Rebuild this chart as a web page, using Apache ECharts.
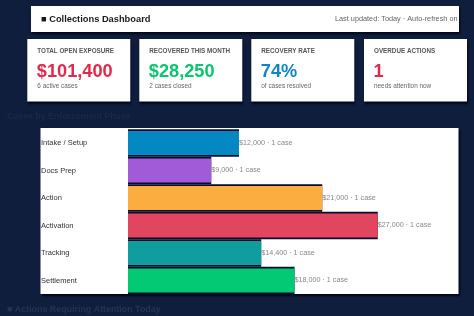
<!DOCTYPE html>
<html>
<head>
<meta charset="utf-8">
<script src="https://cdn.jsdelivr.net/npm/echarts@6/dist/echarts.min.js"></script>
<style>
html,body{margin:0;padding:0;background:#0f1e3d;}
#c{width:474px;height:316px;}
</style>
</head>
<body>
<div id="c"></div>
<script>
// ---- data ----
const categories = ['Intake / Setup', 'Docs Prep', 'Action', 'Activation', 'Tracking', 'Settlement'];
const amounts = [12000, 9000, 21000, 27000, 14400, 18000];
const caseCounts = [1, 1, 1, 1, 1, 1];
const barColors = ['#0488c4', '#a15bd9', '#fbad3f', '#e2455e', '#0f9d9d', '#03c874'];

const kpiTitles = ['TOTAL OPEN EXPOSURE', 'RECOVERED THIS MONTH', 'RECOVERY RATE', 'OVERDUE ACTIONS'];
const kpiValues = ['$101,400', '$28,250', '74%', '1'];
const kpiSubs = ['6 active cases', '2 cases closed', 'of cases resolved', 'needs attention now'];
const kpiColors = ['#e3294b', '#0bc56f', '#1186c6', '#e3294b'];

const dashTitle = '■ Collections Dashboard';
const dashUpdated = 'Last updated: Today · Auto-refresh on';
const chartTitle = 'Cases by Enforcement Phase';
const nextTitle = '■ Actions Requiring Attention Today';

// ---- chart ----
const FONT = '"Liberation Sans", Arial, "DejaVu Sans", sans-serif';
const chart = echarts.init(document.getElementById('c'), null, {renderer: 'canvas'});

const graphics = [];
// header box
graphics.push({type: 'rect', z: 0, shape: {x: 31, y: 6, width: 428, height: 26},
  style: {fill: '#ffffff', shadowColor: 'rgba(0,0,20,0.8)', shadowOffsetX: 1, shadowOffsetY: 2, shadowBlur: 2}});
graphics.push({type: 'text', z: 1, x: 41, y: 19.5,
  style: {text: dashTitle, font: 'bold 9.3px ' + FONT, fill: '#1a1a1a', verticalAlign: 'middle', align: 'left'}});
graphics.push({type: 'text', z: 1, x: 457.5, y: 18.5,
  style: {text: dashUpdated, font: '7.3px ' + FONT, fill: '#666', verticalAlign: 'middle', align: 'right'}});

// KPI cards
const cardX = [27.3, 139.3, 251.3, 364];
cardX.forEach((x, i) => {
  graphics.push({type: 'rect', z: 0, shape: {x: x, y: 39, width: 103, height: 62.5},
    style: {fill: '#ffffff', shadowColor: 'rgba(0,0,20,0.8)', shadowOffsetX: 1, shadowOffsetY: 2, shadowBlur: 2}});
  graphics.push({type: 'text', z: 1, x: x + 10, y: 51,
    style: {text: kpiTitles[i], font: 'bold 6.3px ' + FONT, fill: '#555', verticalAlign: 'middle'}});
  graphics.push({type: 'text', z: 1, x: x + 9.5, y: 71.5,
    style: {text: kpiValues[i], font: 'bold 18.2px ' + FONT, fill: kpiColors[i], verticalAlign: 'middle'}});
  graphics.push({type: 'text', z: 1, x: x + 10, y: 86,
    style: {text: kpiSubs[i], font: '6.4px ' + FONT, fill: '#666', verticalAlign: 'middle'}});
});

// section titles
graphics.push({type: 'text', z: 1, x: 7, y: 117,
  style: {text: chartTitle, font: 'bold 8.8px ' + FONT, fill: '#1d2946', verticalAlign: 'middle'}});
graphics.push({type: 'text', z: 1, x: 7, y: 310,
  style: {text: nextTitle, font: 'bold 8.9px ' + FONT, fill: '#283350', verticalAlign: 'middle'}});

// chart panel
graphics.push({type: 'rect', z: -1, shape: {x: 40.5, y: 128, width: 418, height: 166},
  style: {fill: '#ffffff', shadowColor: 'rgba(0,0,20,0.85)', shadowOffsetX: 1.5, shadowOffsetY: 2, shadowBlur: 2}});

chart.setOption({
  backgroundColor: '#0f1e3d',
  animation: false,
  graphic: graphics,
  grid: {left: 128, top: 129.2, width: 333, height: 165, containLabel: false},
  xAxis: {type: 'value', min: 0, max: 36000, show: false},
  yAxis: [
    {type: 'category', data: categories, inverse: true,
      axisLine: {show: false}, axisTick: {show: false}, splitLine: {show: false},
      axisLabel: {align: 'left', margin: 87, fontSize: 7.5, color: '#333', fontFamily: FONT, padding: [0, 0, 2, 0]}},
    {type: 'category', data: categories, inverse: true, show: false}
  ],
  series: [
    {
      type: 'bar', yAxisIndex: 1, barWidth: '100%', z: 1, silent: true,
      data: amounts,
      itemStyle: {color: '#070d2a'}
    },
    {
      type: 'bar', yAxisIndex: 0, barWidth: 24, z: 2,
      data: amounts.map((v, i) => ({value: v, itemStyle: {color: barColors[i]}})),
      label: {
        show: true, position: 'right', distance: 0,
        fontSize: 7.2, color: '#888', fontFamily: FONT,
        formatter: p => '$' + p.value.toLocaleString('en-US') + ' · ' + caseCounts[p.dataIndex] + ' case'
      }
    }
  ]
});
</script>
</body>
</html>
